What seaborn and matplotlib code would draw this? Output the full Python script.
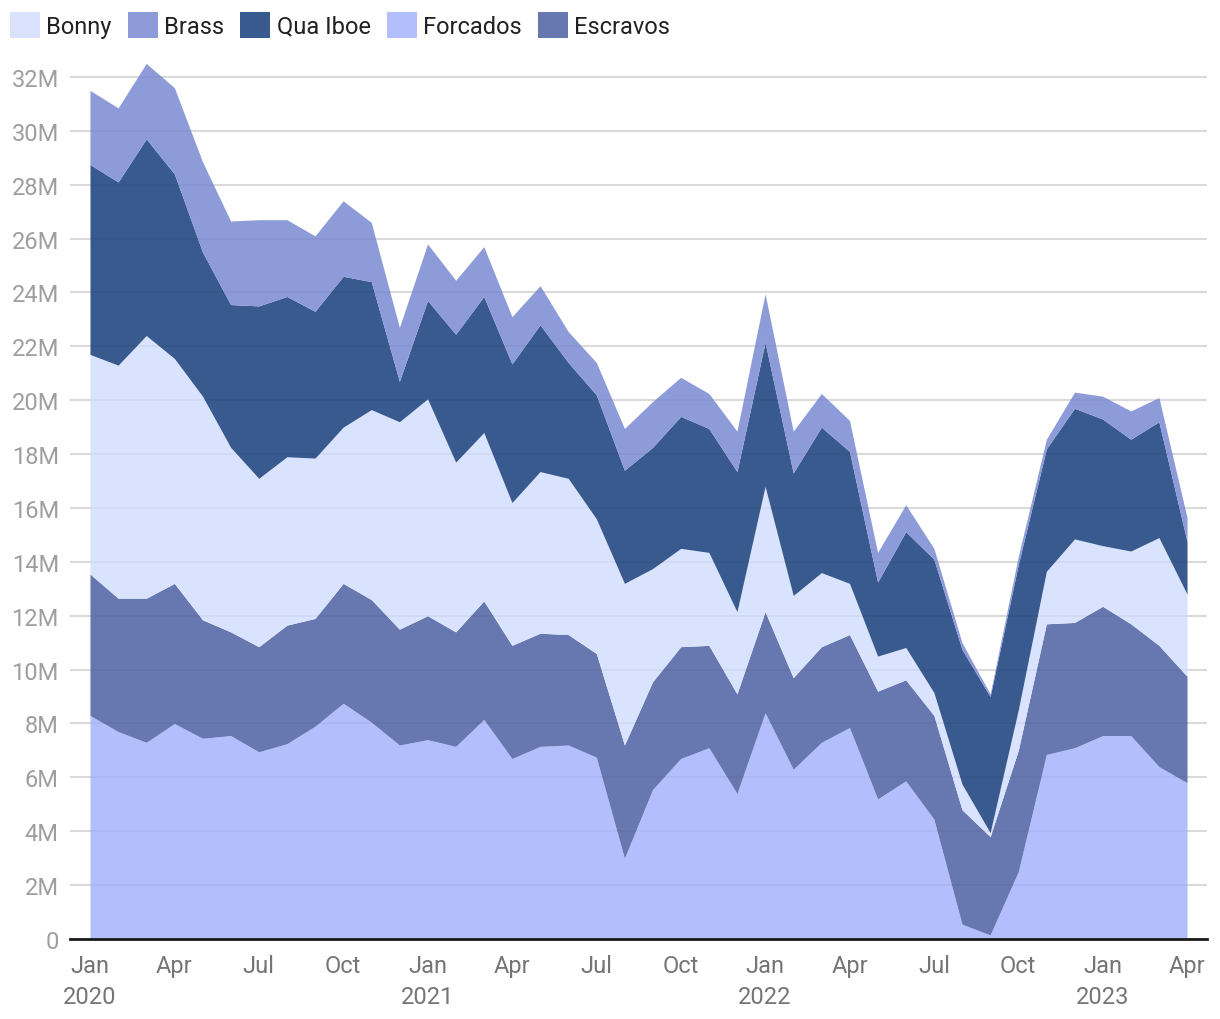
import numpy as np
import pandas as pd
import matplotlib
matplotlib.use("Agg")
import matplotlib.pyplot as plt
from matplotlib.patches import Patch
from matplotlib.ticker import FuncFormatter, MultipleLocator
import seaborn as sns

months = pd.date_range("2020-01-01", "2023-04-01", freq="MS")

forcados = [8.3, 7.7, 7.3, 8.0, 7.45, 7.55, 6.95, 7.25, 7.9, 8.75,
            8.05, 7.2, 7.4, 7.15, 8.15, 6.7, 7.15, 7.2, 6.75, 3.0,
            5.55, 6.7, 7.1, 5.4, 8.4, 6.3, 7.3, 7.85, 5.2, 5.87,
            4.45, 0.55, 0.15, 2.5, 6.85, 7.1, 7.55, 7.55, 6.4, 5.8]
escravos = [5.25, 4.95, 5.35, 5.2, 4.4, 3.85, 3.9, 4.4, 4.0, 4.45,
            4.55, 4.3, 4.6, 4.25, 4.4, 4.2, 4.2, 4.1, 3.85, 4.2,
            4.0, 4.15, 3.8, 3.7, 3.75, 3.4, 3.55, 3.45, 4.0, 3.75,
            3.85, 4.25, 3.65, 4.5, 4.85, 4.65, 4.8, 4.15, 4.5, 3.95]
bonny = [8.15, 8.65, 9.75, 8.35, 8.3, 6.85, 6.25, 6.25, 5.95, 5.8,
         7.05, 7.7, 8.05, 6.3, 6.25, 5.3, 6.0, 5.8, 5.0, 6.0,
         4.2, 3.65, 3.45, 3.05, 4.65, 3.05, 2.75, 1.9, 1.3, 1.2,
         0.85, 0.95, 0.15, 1.5, 1.95, 3.1, 2.25, 2.7, 4.0, 3.05]
qua_iboe = [7.05, 6.8, 7.3, 6.85, 5.35, 5.3, 6.4, 5.95, 5.45, 5.6,
            4.75, 1.5, 3.65, 4.75, 5.05, 5.15, 5.45, 4.3, 4.6, 4.2,
            4.5, 4.9, 4.6, 5.2, 5.35, 4.55, 5.4, 4.9, 2.75, 4.3,
            4.95, 5.0, 5.05, 5.4, 4.55, 4.85, 4.7, 4.15, 4.3, 1.95]
brass = [2.75, 2.75, 2.8, 3.2, 3.35, 3.1, 3.2, 2.85, 2.8, 2.8,
         2.2, 2.0, 2.1, 2.0, 1.85, 1.75, 1.45, 1.15, 1.2, 1.55,
         1.7, 1.45, 1.3, 1.5, 1.8, 1.55, 1.25, 1.15, 1.1, 1.0,
         0.4, 0.25, 0.1, 0.3, 0.35, 0.6, 0.85, 1.05, 0.9, 0.9]

legend_order = ["Bonny", "Brass", "Qua Iboe", "Forcados", "Escravos"]
stack_order = ["Forcados", "Escravos", "Bonny", "Qua Iboe", "Brass"]
colors = {"Bonny": "#d9e3fd", "Brass": "#8d9bd8", "Qua Iboe": "#395a8e",
          "Forcados": "#b3bffc", "Escravos": "#6777b0"}

df = pd.DataFrame({"Forcados": forcados, "Escravos": escravos, "Bonny": bonny,
                   "Qua Iboe": qua_iboe, "Brass": brass}, index=months)

sns.set_theme(style="white")
plt.rcParams["font.family"] = ["Roboto", "DejaVu Sans"]

FS = 17

fig = plt.figure(figsize=(12.2, 10.2), dpi=100)
ax = fig.add_axes([70 / 1220, 80 / 1020, (1207 - 70) / 1220, (940 - 55) / 1020])

x = np.arange(len(months))
ax.stackplot(x, *[np.array(df[c]) * 1e6 for c in stack_order],
             colors=[colors[c] for c in stack_order], linewidth=0, zorder=2)

ax.set_xlim(-0.71, len(months) - 1 + 0.71)
ax.set_ylim(0, 32.85e6)
ax.yaxis.set_major_locator(MultipleLocator(2e6))
ax.yaxis.set_major_formatter(FuncFormatter(lambda v, p: "0" if v == 0 else f"{v/1e6:.0f}M"))
ax.grid(axis="y", color="#e3e3e3", linewidth=1.5, zorder=0)
ax.grid(axis="x", visible=False)
# faint grid lines visible through the areas
for yv in np.arange(2e6, 33e6, 2e6):
    ax.axhline(yv, color="black", alpha=0.035, linewidth=1.5, zorder=3)

tick_idx = list(range(0, len(months), 3))
tick_labels = []
for i in tick_idx:
    m = months[i]
    lab = m.strftime("%b")
    if m.month == 1:
        lab += "\n" + str(m.year)
    tick_labels.append(lab)
ax.set_xticks(tick_idx)
ax.set_xticklabels(tick_labels, fontsize=FS, color="#757575", linespacing=1.45, va="top")
ax.tick_params(axis="x", length=0, pad=11)
ax.tick_params(axis="y", length=0, pad=8, labelsize=FS, labelcolor="#9e9e9e")

for s in ["top", "right", "left"]:
    ax.spines[s].set_visible(False)
ax.spines["bottom"].set_color("#1a1a1a")
ax.spines["bottom"].set_linewidth(2)
ax.spines["bottom"].set_zorder(5)

handles = [Patch(facecolor=colors[c], edgecolor="none", label=c) for c in legend_order]
fig.legend(handles=handles, loc="upper left", bbox_to_anchor=(10 / 1220, 1 - 13 / 1020), ncol=5,
           frameon=False, fontsize=FS, handlelength=1.27, handleheight=1.3,
           handletextpad=0.27, columnspacing=0.68, borderpad=0, borderaxespad=0,
           labelcolor="#212121")

fig.savefig("out.png", dpi=100, facecolor="white")
